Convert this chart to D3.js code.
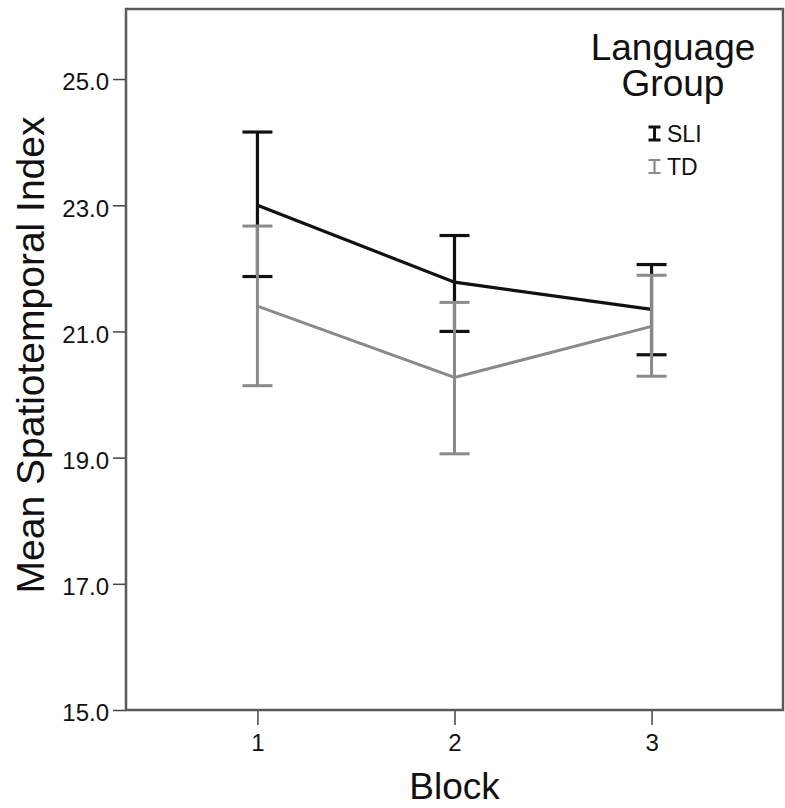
<!DOCTYPE html>
<html>
<head>
<meta charset="utf-8">
<script src="https://cdn.jsdelivr.net/npm/d3@7"></script>
<style>
  body { margin: 0; background: #fff; }
  text { font-family: "Liberation Sans", Arial, sans-serif; fill: #111; }
</style>
</head>
<body>
<div id="chart"></div>
<script>
// Data
const blocks = ["1", "2", "3"];
const groups = ["SLI", "TD"];
const sliMean = [23.0, 21.78, 21.35];
const sliUpper = [24.16, 22.52, 22.06];
const sliLower = [21.87, 21.0, 20.63];
const tdMean = [21.4, 20.27, 21.08];
const tdUpper = [22.67, 21.46, 21.89];
const tdLower = [20.14, 19.06, 20.29];
const yTicks = [15, 17, 19, 21, 23, 25];
const yExtent = [15, 26.11];

const seriesColors = { SLI: "#111111", TD: "#8a8a8a" };
const seriesWidths = { SLI: 3.2, TD: 3 };

const series = [
  { name: "SLI", mean: sliMean, upper: sliUpper, lower: sliLower },
  { name: "TD", mean: tdMean, upper: tdUpper, lower: tdLower },
];

const W = 785, H = 808;
const frame = { left: 126, top: 9, right: 783, bottom: 710 };

const svg = d3
  .select("#chart")
  .append("svg")
  .attr("width", W)
  .attr("height", H);

// Scales
const x = d3
  .scalePoint()
  .domain(blocks)
  .range([frame.left, frame.right])
  .padding(0.667);

const y = d3
  .scaleLinear()
  .domain(yExtent)
  .range([frame.bottom, frame.top]);

// Y-axis
const yAxis = svg
  .append("g")
  .attr("transform", `translate(${frame.left},0)`)
  .call(
    d3.axisLeft(y)
      .tickValues(yTicks)
      .tickFormat(d3.format(".1f"))
      .tickSize(13)
      .tickSizeOuter(0)
      .tickPadding(4)
  );
yAxis.select(".domain").remove();
yAxis.selectAll(".tick line").attr("stroke", "#444").attr("stroke-width", 1.5);
yAxis
  .selectAll(".tick text")
  .attr("dy", "0.45em")
  .style("font-size", "24px")
  .attr("fill", "#111");

// X-axis
const xAxis = svg
  .append("g")
  .attr("transform", `translate(0,${frame.bottom})`)
  .call(d3.axisBottom(x).tickSize(15).tickSizeOuter(0).tickPadding(9));
xAxis.select(".domain").remove();
xAxis.selectAll(".tick line").attr("stroke", "#444").attr("stroke-width", 1.5);
xAxis
  .selectAll(".tick text")
  .style("font-size", "24px")
  .attr("fill", "#111");

// Frame
svg
  .append("rect")
  .attr("x", frame.left)
  .attr("y", frame.top)
  .attr("width", frame.right - frame.left)
  .attr("height", frame.bottom - frame.top)
  .attr("fill", "none")
  .attr("stroke", "#5a5a5a")
  .attr("stroke-width", 2.5);

// Lines and error bars
const capHalf = 15;
const line = d3
  .line()
  .x((d, i) => x(blocks[i]))
  .y((d) => y(d));

series.forEach((s) => {
  const g = svg.append("g").attr("class", "series-" + s.name);
  const color = seriesColors[s.name];
  const sw = seriesWidths[s.name];

  g.append("path")
    .attr("d", line(s.mean))
    .attr("fill", "none")
    .attr("stroke", color)
    .attr("stroke-width", sw);

  blocks.forEach((b, i) => {
    const cx = x(b);
    g.append("line")
      .attr("x1", cx).attr("x2", cx)
      .attr("y1", y(s.upper[i])).attr("y2", y(s.lower[i]))
      .attr("stroke", color).attr("stroke-width", sw);
    [s.upper[i], s.lower[i]].forEach((v) => {
      g.append("line")
        .attr("x1", cx - capHalf).attr("x2", cx + capHalf)
        .attr("y1", y(v)).attr("y2", y(v))
        .attr("stroke", color).attr("stroke-width", sw);
    });
  });
});

// Axis labels
svg
  .append("text")
  .attr("x", x("2"))
  .attr("y", 799)
  .attr("text-anchor", "middle")
  .style("font-size", "37px")
  .text("Block");

svg
  .append("text")
  .attr("transform", `translate(44, ${(118 + 592) / 2}) rotate(-90)`)
  .attr("text-anchor", "middle")
  .style("font-size", "39px")
  .text("Mean Spatiotemporal Index");

// Legend
const legend = svg.append("g");
legend
  .append("text")
  .attr("x", 673)
  .attr("y", 60)
  .attr("text-anchor", "middle")
  .style("font-size", "37px")
  .text("Language");
legend
  .append("text")
  .attr("x", 673)
  .attr("y", 96)
  .attr("text-anchor", "middle")
  .style("font-size", "37px")
  .text("Group");

groups.forEach((name, i) => {
  const baseY = 142 + i * 33;
  const cx = 654.5;
  const top = baseY - 15, bot = baseY - 2;
  const color = seriesColors[name];
  const sw = name === "SLI" ? 3 : 2.2;
  legend
    .append("path")
    .attr("d", `M${cx - 6},${top}H${cx + 6}M${cx},${top}V${bot}M${cx - 6},${bot}H${cx + 6}`)
    .attr("fill", "none")
    .attr("stroke", color)
    .attr("stroke-width", sw);
  legend
    .append("text")
    .attr("x", 667)
    .attr("y", baseY)
    .style("font-size", "23px")
    .text(name);
});
</script>
</body>
</html>
